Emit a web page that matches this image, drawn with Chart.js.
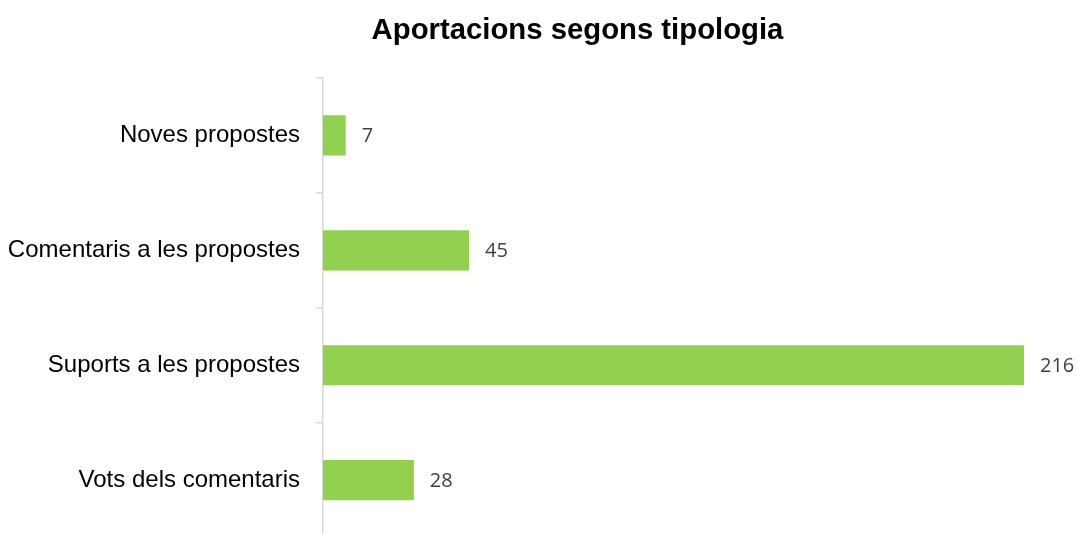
<!DOCTYPE html>
<html>
<head>
<meta charset="utf-8">
<script src="https://cdn.jsdelivr.net/npm/chart.js@4/dist/chart.umd.min.js"></script>
<style>
html,body{margin:0;padding:0;background:#fff;overflow:hidden;}
#wrap{width:1078px;height:533px;overflow:hidden;}
</style>
</head>
<body>
<div id="wrap"><canvas id="c" width="1078" height="568"></canvas></div>
<script>
const chartTitle = 'Aportacions segons tipologia';
const categories = ['Noves propostes', 'Comentaris a les propostes', 'Suports a les propostes', 'Vots dels comentaris'];
const values = [7, 45, 216, 28];

const titlePlugin = {
  id: 'customTitle',
  afterDraw(chart) {
    const ctx = chart.ctx;
    ctx.save();
    ctx.font = 'bold 29.3px "Liberation Sans", Arial, sans-serif';
    ctx.fillStyle = '#000';
    ctx.textAlign = 'center';
    ctx.textBaseline = 'alphabetic';
    ctx.fillText(chartTitle, 577.5, 39);
    ctx.restore();
  }
};

const labelPlugin = {
  id: 'valueLabels',
  afterDatasetsDraw(chart) {
    const ctx = chart.ctx;
    const meta = chart.getDatasetMeta(0);
    ctx.save();
    ctx.font = '20px "Open Sans", sans-serif';
    ctx.fillStyle = '#404040';
    ctx.textAlign = 'left';
    ctx.textBaseline = 'middle';
    meta.data.forEach((bar, i) => {
      ctx.fillText(String(values[i]), bar.x + 16, bar.y + 1);
    });
    ctx.restore();
  }
};

new Chart(document.getElementById('c'), {
  type: 'bar',
  data: {
    labels: categories,
    datasets: [{
      data: values,
      backgroundColor: '#92D050',
      borderWidth: 0,
      barPercentage: 0.7,
      categoryPercentage: 0.5
    }]
  },
  options: {
    indexAxis: 'y',
    responsive: false,
    animation: false,
    layout: { padding: { top: 78, right: 54, bottom: 2, left: 0 } },
    plugins: { legend: { display: false }, title: { display: false }, tooltip: { enabled: false } },
    scales: {
      x: { display: false, min: 0, max: 216 },
      y: {
        afterFit(scale) { scale.width = 323; },
        border: { display: true, color: '#d9d9d9', width: 1.5 },
        grid: { display: true, drawOnChartArea: false, drawTicks: true, tickLength: 7, color: '#d9d9d9', offset: true, lineWidth: 1.5 },
        ticks: { color: '#000', padding: 16, font: { family: '"Liberation Sans", Arial, sans-serif', size: 24 } }
      }
    }
  },
  plugins: [titlePlugin, labelPlugin]
});
</script>
</body>
</html>
